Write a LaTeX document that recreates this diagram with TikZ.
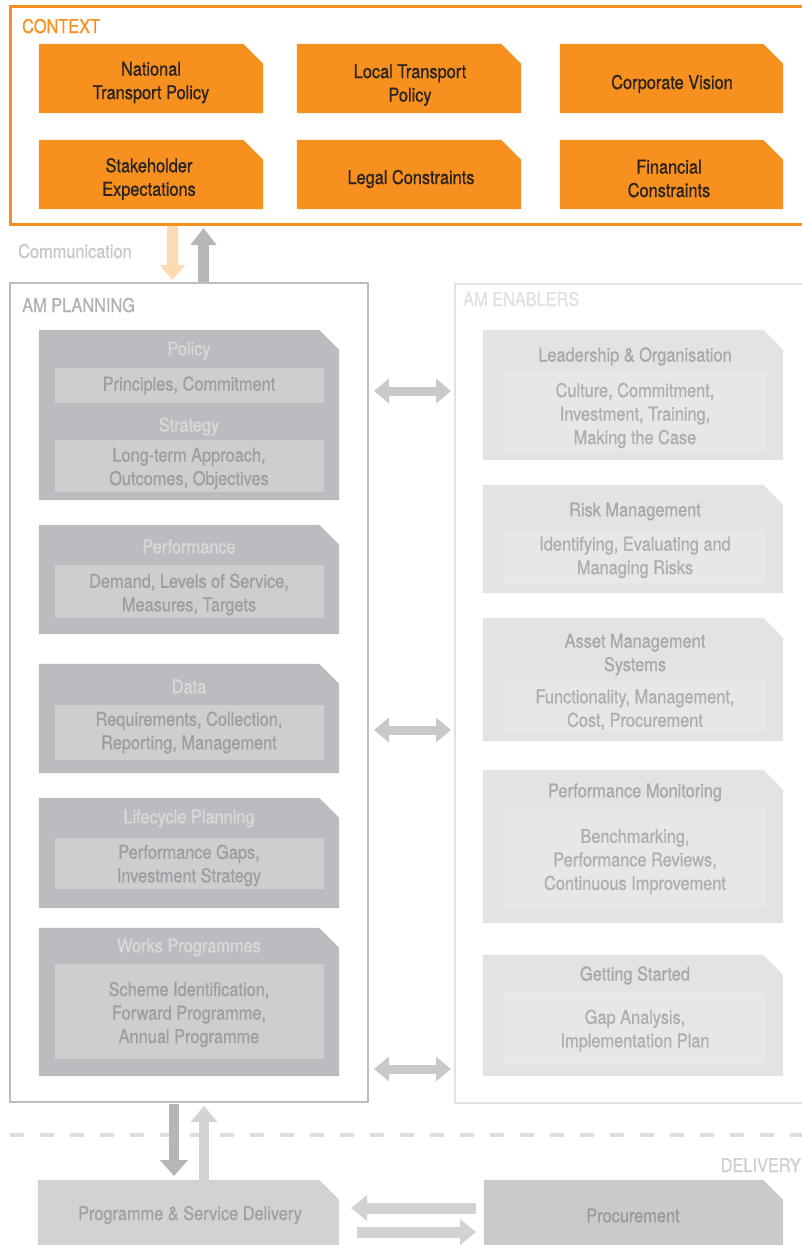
\documentclass[tikz,border=0pt]{standalone}
\usepackage{fontspec}
\setmainfont{TeX Gyre Heros}[FakeStretch=0.86,FakeBold=0.8]
\usetikzlibrary{arrows.meta,fit}
\definecolor{orng}{HTML}{F7901E}
\definecolor{ctxtxt}{HTML}{2A2420}
\definecolor{commdown}{HTML}{FDD9B4}
\definecolor{commup}{HTML}{B5B6B9}
\definecolor{planframe}{HTML}{BCBDC0}
\definecolor{planbox}{HTML}{BBBCBF}
\definecolor{plansub}{HTML}{CDCED0}
\definecolor{plantitle}{HTML}{D8D9DB}
\definecolor{plantext}{HTML}{9D9EA1}
\definecolor{enframe}{HTML}{E1E2E3}
\definecolor{enbox}{HTML}{E2E3E4}
\definecolor{ensub}{HTML}{E7E7E8}
\definecolor{entitle}{HTML}{A7A8AA}
\definecolor{entext}{HTML}{ADAEB0}
\definecolor{dblarrow}{HTML}{C8C9CB}
\definecolor{commtext}{HTML}{C6C7C9}
\definecolor{amplan}{HTML}{B0B1B4}
\definecolor{amen}{HTML}{DFE0E1}
\definecolor{dashcol}{HTML}{DCDDDF}
\definecolor{delivtext}{HTML}{CDCECF}
\definecolor{progbox}{HTML}{D1D2D4}
\definecolor{progtext}{HTML}{A0A1A4}
\definecolor{procbox}{HTML}{C9CACC}
\definecolor{proctext}{HTML}{9A9B9E}
\definecolor{botup}{HTML}{D3D4D6}
\newcommand\mycutbox[6]{%
  \node[inner sep=0pt, fit={(#2,#3) (#4,#5)}] (#1) {};
  \fill[#6] (#1.south west) -- (#1.north west) -- ([xshift=-20pt]#1.north east)
    -- ([yshift=-20pt]#1.north east) -- (#1.south east) -- cycle;}
\newcommand\mysubbox[6]{%
  \node[inner sep=0pt, fit={(#2,#3) (#4,#5)}, fill=#6] (#1) {};}
\begin{document}
\begin{tikzpicture}[x=1pt,y=-1pt,
  txt/.style={font=\fontsize{19}{23.5}\selectfont, align=center, inner sep=0pt},
  ctxt/.style={txt, text=ctxtxt},
  ptitle/.style={txt, text=plantitle},
  ptext/.style={txt, text=plantext},
  etitle/.style={txt, text=entitle},
  etext/.style={txt, text=entext},
  head/.style={font=\fontsize{19}{24}\selectfont, inner sep=0pt},
  frame/.style={inner sep=0pt, line width=2.5pt},
  dbl/.style={dblarrow, line width=9pt, {Triangle[width=24pt,length=15pt]}-{Triangle[width=24pt,length=15pt]}},
  blk/.style={line width=11pt, -{Triangle[width=25pt,length=16pt]}}
]
\useasboundingbox (0,0) rectangle (802,1245);
\clip (0,0) rectangle (802,1245);

% ---------- frames ----------
\node[frame, draw=orng, line width=3pt, fit={(10,6) (815,224)}] (ctx) {};
\node[frame, draw=planframe, fit={(10,283) (368,1102)}] (plan) {};
\node[frame, draw=enframe, fit={(455,284) (815,1103)}] (enab) {};

\node[head, text=orng, anchor=base west] (ctxlab) at (22,33) {CONTEXT};
\node[head, text=commtext, anchor=base west] (commlab) at (18,258) {Communication};
\node[head, text=amplan, anchor=base west] (planlab) at (22,312) {AM PLANNING};
\node[head, text=amen, anchor=base west] (enlab) at (463,306) {AM ENABLERS};

% ---------- context boxes ----------
\mycutbox{c1}{39}{44}{263}{113}{orng}
\mycutbox{c2}{297}{44}{521}{113}{orng}
\mycutbox{c3}{560}{44}{783}{113}{orng}
\mycutbox{c4}{39}{140}{263}{209}{orng}
\mycutbox{c5}{297}{140}{521}{209}{orng}
\mycutbox{c6}{560}{140}{783}{209}{orng}
\node[ctxt] (c1t) at (151,82.5) {National\\Transport Policy};
\node[ctxt] (c2t) at (410,85) {Local Transport\\Policy};
\node[ctxt] (c3t) at (672,84) {Corporate Vision};
\node[ctxt] (c4t) at (149,179) {Stakeholder\\Expectations};
\node[ctxt] (c5t) at (411,179) {Legal Constraints};
\node[ctxt] (c6t) at (669,178.5) {Financial\\Constraints};

% ---------- planning boxes ----------
\mycutbox{pol}{39}{330}{339}{500}{planbox}
\mysubbox{pols}{55}{368}{324}{403}{plansub}
\mysubbox{strs}{55}{440}{324}{492}{plansub}
\node[ptitle] (polt) at (189,350.5) {Policy};
\node[ptext] (polx) at (189,385.5) {Principles, Commitment};
\node[ptitle] (strt) at (189,426.5) {Strategy};
\node[ptext] (strx) at (189,468.5) {Long-term Approach,\\Outcomes, Objectives};

\mycutbox{perf}{39}{525}{339}{634}{planbox}
\mysubbox{perfs}{55}{565}{324}{618}{plansub}
\node[ptitle] (perft) at (189,546.5) {Performance};
\node[ptext] (perfx) at (189,594.5) {Demand, Levels of Service,\\Measures, Targets};

\mycutbox{data}{39}{664}{339}{773}{planbox}
\mysubbox{datas}{55}{705}{324}{760}{plansub}
\node[ptitle] (datat) at (189,686.5) {Data};
\node[ptext] (datax) at (189,732.5) {Requirements, Collection,\\Reporting, Management};

\mycutbox{life}{39}{798}{339}{908}{planbox}
\mysubbox{lifes}{55}{838}{324}{889}{plansub}
\node[ptitle] (lifet) at (189,818.5) {Lifecycle Planning};
\node[ptext] (lifex) at (189,865.5) {Performance Gaps,\\Investment Strategy};

\mycutbox{works}{39}{928}{339}{1076}{planbox}
\mysubbox{workss}{55}{964}{324}{1059}{plansub}
\node[ptitle] (workst) at (189,947.5) {Works Programmes};
\node[ptext] (worksx) at (189,1014.5) {Scheme Identification,\\Forward Programme,\\Annual Programme};

% ---------- enabler boxes ----------
\mycutbox{lead}{483}{330}{783}{460}{enbox}
\mysubbox{leads}{503}{372}{766}{451}{ensub}
\node[etitle] (leadt) at (635,356.5) {Leadership \& Organisation};
\node[etext] (leadx) at (635,415.5) {Culture, Commitment,\\Investment, Training,\\Making the Case};

\mycutbox{risk}{483}{485}{783}{593}{enbox}
\mysubbox{risks}{503}{530}{766}{583}{ensub}
\node[etitle] (riskt) at (635,511.5) {Risk Management};
\node[etext] (riskx) at (635,557.5) {Identifying, Evaluating and\\Managing Risks};

\mycutbox{ams}{483}{618}{783}{741}{enbox}
\mysubbox{amss}{503}{680}{766}{731}{ensub}
\node[etitle] (amst) at (635,654.5) {Asset Management\\Systems};
\node[etext] (amsx) at (635,709.5) {Functionality, Management,\\Cost, Procurement};

\mycutbox{pm}{483}{770}{783}{923}{enbox}
\mysubbox{pms}{503}{807}{766}{907}{ensub}
\node[etitle] (pmt) at (635,792.5) {Performance Monitoring};
\node[etext] (pmx) at (635,861.5) {Benchmarking,\\Performance Reviews,\\Continuous Improvement};

\mycutbox{gs}{483}{955}{783}{1076}{enbox}
\mysubbox{gss}{503}{993}{766}{1063}{ensub}
\node[etitle] (gst) at (635,975.5) {Getting Started};
\node[etext] (gsx) at (635,1030.5) {Gap Analysis,\\Implementation Plan};

% ---------- planning <-> enablers arrows ----------
\coordinate (d1l) at (374,391); \coordinate (d1r) at (451,391);
\coordinate (d2l) at (374,730); \coordinate (d2r) at (451,730);
\coordinate (d3l) at (374,1069); \coordinate (d3r) at (451,1069);
\draw[dbl] (d1l) -- (d1r);
\draw[dbl] (d2l) -- (d2r);
\draw[dbl] (d3l) -- (d3r);

% ---------- communication arrows ----------
\coordinate (cd1) at (172.5,226); \coordinate (cd2) at (172.5,280);
\coordinate (cu1) at (203.5,282); \coordinate (cu2) at (203.5,228);
\draw[blk, commdown, -{Triangle[width=25pt,length=15pt]}] (cd1) -- (cd2);
\draw[blk, commup, -{Triangle[width=25pt,length=17pt]}] (cu1) -- (cu2);

% ---------- delivery ----------
\coordinate (dl) at (10,1135); \coordinate (dr) at (802,1135);
\draw[dashcol, line width=3.5pt, dash pattern=on 14pt off 16pt] (dl) -- (dr);
\node[head, text=delivtext, anchor=base east] (delivlab) at (801,1172) {DELIVERY};

\mycutbox{prog}{38}{1180}{339}{1265}{progbox}
\mycutbox{proc}{484}{1180}{783}{1265}{procbox}
\node[txt, text=progtext] (progt) at (190,1215) {Programme \& Service Delivery};
\node[txt, text=proctext] (proct) at (633,1215.5) {Procurement};

\coordinate (bd1) at (174,1104); \coordinate (bd2) at (174,1176);
\coordinate (bu1) at (204,1182); \coordinate (bu2) at (204,1106);
\draw[blk, commup, line width=10pt, -{Triangle[width=27pt,length=16pt]}] (bd1) -- (bd2);
\draw[blk, botup, line width=10pt, -{Triangle[width=26pt,length=16pt]}] (bu1) -- (bu2);

\coordinate (hl1) at (476,1208); \coordinate (hl2) at (351,1208);
\coordinate (hr1) at (357,1232); \coordinate (hr2) at (476,1232);
\draw[blk, progbox] (hl1) -- (hl2);
\draw[blk, progbox] (hr1) -- (hr2);
\end{tikzpicture}
\end{document}
